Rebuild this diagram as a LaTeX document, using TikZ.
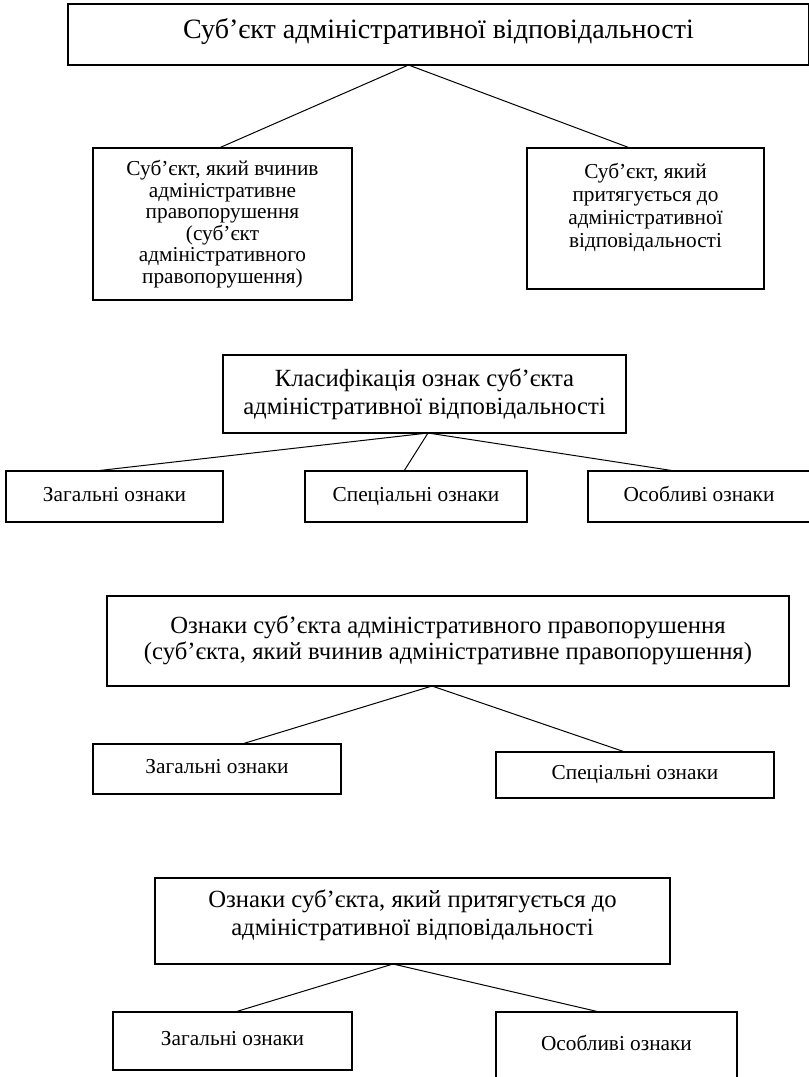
\documentclass[tikz,border=0pt]{standalone}
\usepackage{fontspec}
\setmainfont{Liberation Serif}
\begin{document}
\begin{tikzpicture}[x=1pt,y=-1pt,
  box/.style={draw, line width=1.1pt, inner sep=0pt, outer sep=0pt, align=center, anchor=north west},
  small/.style={font=\fontsize{21.3}{21.5}\selectfont},
  one/.style={small, text height=14.5pt, text depth=4.6pt},
  head/.style={font=\fontsize{24.7}{28}\selectfont},
  txt/.style={align=center, inner sep=0pt},
  link/.style={line width=1pt}]
\clip (0,0) rectangle (809,1077);
% section 1
\node[box, minimum width=741pt, minimum height=61pt, font=\fontsize{28}{30}\selectfont, text height=19.3pt, text depth=11pt] (top) at (68,4) {Суб’єкт адміністративної відповідальності};
\node[box, small, minimum width=259pt, minimum height=152pt] (L1) at (93,148) {Суб’єкт, який вчинив\\адміністративне\\правопорушення\\(суб’єкт\\адміністративного\\правопорушення)};
\node[box, minimum width=237pt, minimum height=141pt] (R1) at (527,148) {};
\node[txt, font=\fontsize{21.3}{23}\selectfont] (R1t) at ([yshift=11pt]R1.center) {Суб’єкт, який\\притягується до\\адміністративної\\відповідальності};
\draw[link] ([xshift=-30pt]top.south) -- ([xshift=-3.5pt]L1.north);
\draw[link] ([xshift=-30pt]top.south) -- ([xshift=-15.5pt]R1.north);
% section 2
\node[box, head, minimum width=403pt, minimum height=78pt] (S2) at (223,355) {Класифікація ознак суб’єкта\\адміністративної відповідальності};
\node[box, one, minimum width=217pt, minimum height=51pt] (A2) at (6,471) {Загальні ознаки};
\node[box, one, minimum width=222pt, minimum height=51pt] (B2) at (305,471) {Спеціальні ознаки};
\node[box, one, minimum width=222pt, minimum height=51pt] (C2) at (588,471) {Особливі ознаки};
\draw[link] ([xshift=3.5pt]S2.south) -- ([xshift=-19.5pt]A2.north);
\draw[link] ([xshift=3.5pt]S2.south) -- ([xshift=-12pt]B2.north);
\draw[link] ([xshift=3.5pt]S2.south) -- ([xshift=-24pt]C2.north);
% section 3
\node[box, minimum width=682pt, minimum height=90pt] (S3) at (107,596) {};
\node[txt, head, font=\fontsize{24.7}{26}\selectfont] (S3t) at ([yshift=1pt]S3.center) {Ознаки суб’єкта адміністративного правопорушення\\(суб’єкта, який вчинив адміністративне правопорушення)};
\node[box, one, minimum width=248pt, minimum height=50pt] (A3) at (93,744) {Загальні ознаки};
\node[box, one, minimum width=278pt, minimum height=46pt] (B3) at (496,752) {Спеціальні ознаки};
\draw[link] ([xshift=-16pt]S3.south) -- ([xshift=25pt]A3.north);
\draw[link] ([xshift=-16pt]S3.south) -- ([xshift=-10pt]B3.north);
% section 4
\node[box, minimum width=515pt, minimum height=86pt] (S4) at (155,878) {};
\node[txt, head] (S4t) at ([yshift=6pt]S4.center) {Ознаки суб’єкта, який притягується до\\адміністративної відповідальності};
\node[box, one, minimum width=239pt, minimum height=58pt] (A4) at (113,1012) {Загальні ознаки};
\node[box, one, minimum width=241pt, minimum height=68pt] (B4) at (496,1012) {Особливі ознаки};
\draw[link] ([xshift=-19.5pt]S4.south) -- ([xshift=2.5pt]A4.north);
\draw[link] ([xshift=-19.5pt]S4.south) -- ([xshift=-17pt]B4.north);
\end{tikzpicture}
\end{document}
